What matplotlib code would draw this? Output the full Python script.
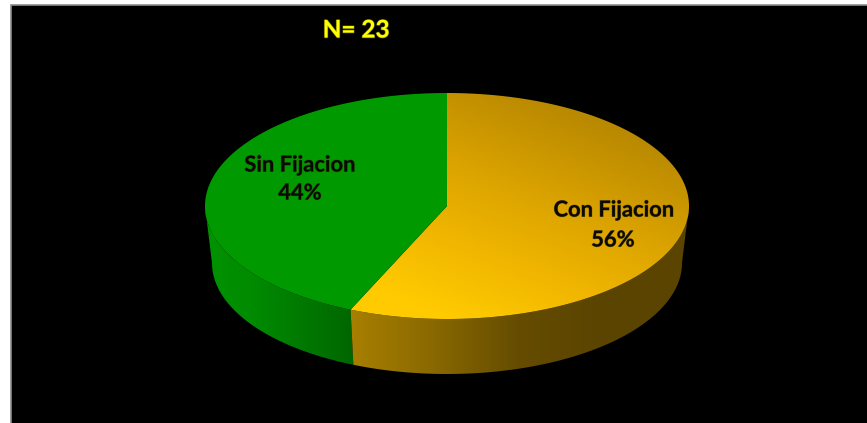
import numpy as np
import matplotlib
matplotlib.use("Agg")
from matplotlib import pyplot as plt
from matplotlib.colors import LinearSegmentedColormap
from matplotlib.patches import Polygon, Rectangle
import matplotlib.patheffects as pe

# casos por grupo, N = 23
categories = ["Con Fijacion", "Sin Fijacion"]
counts = [13, 10]
pct_labels = ["56%", "44%"]
title = "N= 23"

W, H = 867, 423
cx, cy, a, b = 447, 206, 242, 113      # top ellipse
cx2, cy2, a2, b2 = 447, 263, 235, 111  # bottom ellipse, a bit narrower

fig = plt.figure(figsize=(W / 100, H / 100), dpi=100, facecolor="white")
ax = fig.add_axes([0, 0, 1, 1])
ax.set_xlim(0, W)
ax.set_ylim(H, 0)
ax.axis("off")

ax.add_patch(Rectangle((10.5, 5.5), W, H, facecolor="black", edgecolor="#8c8c8c", lw=1.2, zorder=0))


def top_pt(t):
    return cx + a * np.sin(t), cy - b * np.cos(t)


def bot_pt(t):
    return cx2 + a2 * np.sin(t), cy2 - b2 * np.cos(t)


def fill_gradient(poly, cmap, grad, extent, z=2):
    patch = Polygon(poly, closed=True, facecolor="none", edgecolor="none", transform=ax.transData)
    ax.add_patch(patch)
    im = ax.imshow(grad, cmap=cmap, extent=extent, aspect="auto", vmin=0, vmax=1,
                   interpolation="bilinear", zorder=z)
    im.set_clip_path(patch)


split = 2 * np.pi * counts[0] / sum(counts)

yellow_top = LinearSegmentedColormap.from_list(
    "yt", [(0, "#ffca00"), (0.3, "#f0b600"), (0.6, "#dca400"), (1, "#b98900")])
yellow_side = LinearSegmentedColormap.from_list("ys", ["#a98100", "#8a6900", "#654c00", "#5a4400", "#5a4400"])
green_side = LinearSegmentedColormap.from_list("gs", ["#009300", "#008a00", "#007800", "#006500"])

# side of the pie, green goes first so the yellow covers the seam
t2 = np.linspace(split, 1.5 * np.pi, 200)
xt, yt = top_pt(t2)
xb, yb = bot_pt(t2)
side_green = np.column_stack([np.r_[xt, xb[::-1]], np.r_[yt, yb[::-1]]])
fill_gradient(side_green, green_side, np.linspace(0, 1, 256).reshape(1, -1), (205, 356, 380, 200))

t1 = np.linspace(np.pi / 2, split, 200)
xt, yt = top_pt(t1)
xb, yb = bot_pt(t1)
side_yellow = np.column_stack([np.r_[xt, xb[::-1]], np.r_[yt, yb[::-1]]])
fill_gradient(side_yellow, yellow_side, np.linspace(0, 1, 256).reshape(1, -1), (345, 690, 380, 200))

# top of the pie
t3 = np.linspace(0, split, 400)
xt, yt = top_pt(t3)
top_yellow = np.column_stack([np.r_[cx, xt], np.r_[cy, yt]])
xx, yy = np.meshgrid(np.linspace(340, 690, 300), np.linspace(90, 320, 200))
shade = 1 + 0.0022 * (xx - 570) - 0.0055 * (yy - 110)
grad = np.clip((shade + 0.4) / 1.4, 0, 1)
fill_gradient(top_yellow, yellow_top, grad, (340, 690, 320, 90), z=3)

t4 = np.linspace(split, 2 * np.pi, 400)
xt, yt = top_pt(t4)
ax.add_patch(Polygon(np.column_stack([np.r_[cx, xt], np.r_[cy, yt]]), closed=True,
                     facecolor="#009900", edgecolor="none", zorder=4))
ax.set_xlim(0, W)
ax.set_ylim(H, 0)

soft = [pe.withStroke(linewidth=0.7, foreground="#3a3000", alpha=0.5)]
txt = dict(family="Lato", weight="bold", fontsize=15.8, color="#0a0a00", ha="center", va="center", zorder=5)
ax.text(614, 210, categories[0], path_effects=soft, **txt)
ax.text(613, 240, pct_labels[0], path_effects=soft, **txt)
ax.text(300, 165, categories[1], path_effects=soft, **txt)
ax.text(300, 193, pct_labels[1], path_effects=soft, **txt)

ax.text(356, 30, title, family="Lato", weight="bold", fontsize=17.5, color="#ffff00", ha="center", va="center",
        path_effects=[pe.withStroke(linewidth=1.0, foreground="#8a8a00", alpha=0.6)], zorder=5)

fig.savefig("out.png", dpi=100, facecolor="white")
